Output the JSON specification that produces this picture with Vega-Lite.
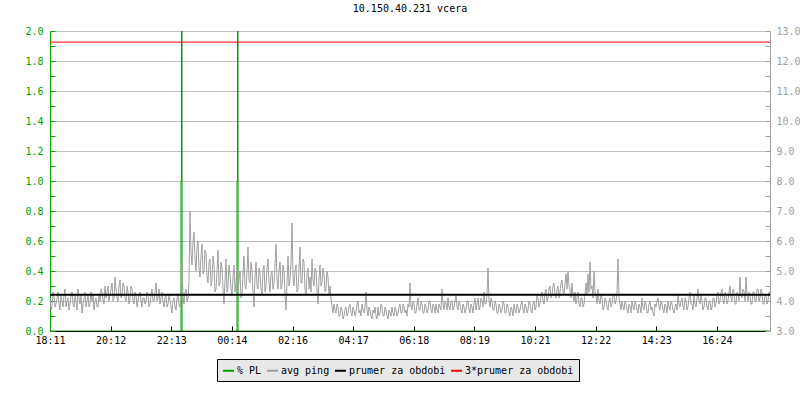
{
  "$schema": "https://vega.github.io/schema/vega-lite/v6.json",
  "width": 720,
  "height": 300,
  "autosize": {"type": "none"},
  "padding": {"left": 50, "top": 31, "right": 30, "bottom": 69},
  "background": "white",
  "title": {"text": "10.150.40.231 vcera", "font": "DejaVu Sans Mono", "fontSize": 10, "fontWeight": "normal", "color": "#000000", "anchor": "middle", "offset": 12},
  "config": {
    "view": {"stroke": null},
    "axis": {"labelFont": "DejaVu Sans Mono", "labelFontSize": 10, "title": null, "labelFlush": false, "labelOverlap": false},
    "legend": {"labelFont": "DejaVu Sans Mono", "labelFontSize": 10, "labelColor": "#000000"}
  },
  "datasets": {
    "pl": [
      {"t": 0, "v": 0}, {"t": 262, "v": 1}, {"t": 263, "v": 3}, {"t": 264, "v": 0},
      {"t": 374, "v": 1}, {"t": 375, "v": 3}, {"t": 376, "v": 0}, {"t": 1440, "v": 0}
    ],
    "ping": [
      {"t":0,"v":4.1},{"t":2,"v":3.7},{"t":4,"v":3.8},{"t":6,"v":4.3},{"t":8,"v":4.2},{"t":10,"v":3.8},{"t":12,"v":3.9},{"t":14,"v":4.1},{"t":16,"v":4.3},{"t":18,"v":3.9},{"t":20,"v":3.7},{"t":22,"v":4.2},{"t":24,"v":4.0},{"t":26,"v":3.8},{"t":28,"v":4.2},{"t":30,"v":4.4},{"t":32,"v":3.8},{"t":34,"v":4.0},{"t":36,"v":4.1},{"t":38,"v":3.7},
      {"t":40,"v":3.9},{"t":42,"v":4.2},{"t":44,"v":4.3},{"t":46,"v":3.9},{"t":48,"v":3.8},{"t":50,"v":4.2},{"t":52,"v":4.0},{"t":54,"v":3.7},{"t":56,"v":4.4},{"t":58,"v":4.1},{"t":60,"v":3.9},{"t":62,"v":4.2},{"t":64,"v":3.6},{"t":66,"v":3.9},{"t":68,"v":4.1},{"t":70,"v":4.3},{"t":72,"v":3.8},{"t":74,"v":4.0},{"t":76,"v":4.2},{"t":78,"v":3.8},
      {"t":80,"v":3.9},{"t":82,"v":4.3},{"t":84,"v":4.0},{"t":86,"v":4.2},{"t":88,"v":3.7},{"t":90,"v":4.0},{"t":92,"v":4.1},{"t":94,"v":3.8},{"t":96,"v":3.8},{"t":98,"v":4.2},{"t":100,"v":4.0},{"t":102,"v":4.4},{"t":104,"v":4.3},{"t":106,"v":4.0},{"t":108,"v":3.9},{"t":110,"v":4.5},{"t":112,"v":4.1},{"t":114,"v":4.3},{"t":116,"v":4.5},{"t":118,"v":4.0},
      {"t":120,"v":4.2},{"t":122,"v":4.4},{"t":124,"v":4.6},{"t":126,"v":4.0},{"t":128,"v":4.1},{"t":130,"v":4.8},{"t":132,"v":4.4},{"t":134,"v":4.1},{"t":136,"v":4.0},{"t":138,"v":4.5},{"t":140,"v":4.7},{"t":142,"v":4.1},{"t":144,"v":4.2},{"t":146,"v":4.6},{"t":148,"v":4.5},{"t":150,"v":4.1},{"t":152,"v":4.0},{"t":154,"v":4.5},{"t":156,"v":4.3},{"t":158,"v":3.9},
      {"t":160,"v":4.1},{"t":162,"v":4.5},{"t":164,"v":4.4},{"t":166,"v":4.0},{"t":168,"v":3.9},{"t":170,"v":4.3},{"t":172,"v":4.2},{"t":174,"v":3.8},{"t":176,"v":4.0},{"t":178,"v":4.2},{"t":180,"v":4.3},{"t":182,"v":4.0},{"t":184,"v":3.8},{"t":186,"v":4.1},{"t":188,"v":4.1},{"t":190,"v":3.9},{"t":192,"v":4.0},{"t":194,"v":4.3},{"t":196,"v":4.2},{"t":198,"v":3.8},
      {"t":200,"v":3.9},{"t":202,"v":4.2},{"t":204,"v":4.4},{"t":206,"v":4.0},{"t":208,"v":4.0},{"t":210,"v":4.3},{"t":212,"v":4.6},{"t":214,"v":4.0},{"t":216,"v":4.1},{"t":218,"v":4.4},{"t":220,"v":3.9},{"t":222,"v":4.1},{"t":224,"v":4.3},{"t":226,"v":4.0},{"t":228,"v":3.8},{"t":230,"v":4.1},{"t":232,"v":4.2},{"t":234,"v":3.8},{"t":236,"v":3.9},{"t":238,"v":4.2},
      {"t":240,"v":4.0},{"t":242,"v":3.8},{"t":244,"v":3.6},{"t":246,"v":4.0},{"t":248,"v":4.1},{"t":250,"v":3.8},{"t":252,"v":3.7},{"t":254,"v":4.1},{"t":256,"v":4.2},{"t":258,"v":3.9},{"t":260,"v":3.8},{"t":262,"v":4.1},{"t":264,"v":5.3},{"t":266,"v":4.2},{"t":268,"v":3.9},{"t":270,"v":4.3},{"t":272,"v":4.4},{"t":274,"v":4.0},{"t":276,"v":4.1},{"t":278,"v":4.6},
      {"t":280,"v":7.0},{"t":282,"v":5.6},{"t":284,"v":5.2},{"t":286,"v":6.0},{"t":288,"v":6.3},{"t":290,"v":5.4},{"t":292,"v":5.0},{"t":294,"v":5.8},{"t":296,"v":6.0},{"t":298,"v":5.1},{"t":300,"v":4.8},{"t":302,"v":5.5},{"t":304,"v":5.9},{"t":306,"v":4.9},{"t":308,"v":5.0},{"t":310,"v":5.7},{"t":312,"v":5.6},{"t":314,"v":4.8},{"t":316,"v":4.6},{"t":318,"v":5.3},
      {"t":320,"v":5.4},{"t":322,"v":4.5},{"t":324,"v":4.7},{"t":326,"v":5.5},{"t":328,"v":5.2},{"t":330,"v":4.3},{"t":332,"v":4.4},{"t":334,"v":5.0},{"t":336,"v":5.7},{"t":338,"v":4.5},{"t":340,"v":4.6},{"t":342,"v":5.3},{"t":344,"v":5.1},{"t":346,"v":4.4},{"t":348,"v":3.9},{"t":350,"v":4.7},{"t":352,"v":5.4},{"t":354,"v":4.3},{"t":356,"v":4.5},{"t":358,"v":5.2},
      {"t":360,"v":4.9},{"t":362,"v":4.4},{"t":364,"v":4.2},{"t":366,"v":4.8},{"t":368,"v":5.2},{"t":370,"v":4.3},{"t":372,"v":4.6},{"t":374,"v":5.1},{"t":376,"v":4.3},{"t":378,"v":4.7},{"t":380,"v":5.0},{"t":382,"v":4.1},{"t":384,"v":4.2},{"t":386,"v":4.9},{"t":388,"v":5.5},{"t":390,"v":4.5},{"t":392,"v":4.4},{"t":394,"v":5.0},{"t":396,"v":5.8},{"t":398,"v":4.7},
      {"t":400,"v":4.6},{"t":402,"v":5.3},{"t":404,"v":5.0},{"t":406,"v":4.3},{"t":408,"v":3.8},{"t":410,"v":4.8},{"t":412,"v":5.3},{"t":414,"v":4.5},{"t":416,"v":4.4},{"t":418,"v":5.1},{"t":420,"v":4.9},{"t":422,"v":4.4},{"t":424,"v":4.2},{"t":426,"v":5.0},{"t":428,"v":5.2},{"t":430,"v":4.3},{"t":432,"v":4.5},{"t":434,"v":5.1},{"t":436,"v":5.4},{"t":438,"v":4.6},
      {"t":440,"v":4.3},{"t":442,"v":4.9},{"t":444,"v":5.0},{"t":446,"v":4.4},{"t":448,"v":4.6},{"t":450,"v":5.2},{"t":452,"v":5.9},{"t":454,"v":4.7},{"t":456,"v":4.4},{"t":458,"v":5.0},{"t":460,"v":5.3},{"t":462,"v":4.4},{"t":464,"v":4.5},{"t":466,"v":5.2},{"t":468,"v":5.0},{"t":470,"v":4.2},{"t":472,"v":3.7},{"t":474,"v":4.6},{"t":476,"v":5.5},{"t":478,"v":4.5},
      {"t":480,"v":4.7},{"t":482,"v":5.3},{"t":484,"v":6.6},{"t":486,"v":4.8},{"t":488,"v":4.5},{"t":490,"v":5.0},{"t":492,"v":5.2},{"t":494,"v":4.3},{"t":496,"v":4.4},{"t":498,"v":5.1},{"t":500,"v":5.8},{"t":502,"v":4.6},{"t":504,"v":4.6},{"t":506,"v":5.4},{"t":508,"v":5.3},{"t":510,"v":4.4},{"t":512,"v":4.2},{"t":514,"v":4.9},{"t":516,"v":5.1},{"t":518,"v":4.4},
      {"t":520,"v":4.8},{"t":522,"v":4.3},{"t":524,"v":5.4},{"t":526,"v":4.7},{"t":528,"v":4.5},{"t":530,"v":5.1},{"t":532,"v":5.0},{"t":534,"v":4.4},{"t":536,"v":3.9},{"t":538,"v":4.7},{"t":540,"v":5.2},{"t":542,"v":4.5},{"t":544,"v":4.6},{"t":546,"v":5.1},{"t":548,"v":4.9},{"t":550,"v":4.3},{"t":552,"v":4.4},{"t":554,"v":5.0},{"t":556,"v":4.8},{"t":558,"v":4.2},
      {"t":560,"v":4.5},{"t":562,"v":4.1},{"t":564,"v":3.8},{"t":566,"v":3.6},{"t":568,"v":3.9},{"t":570,"v":3.7},{"t":572,"v":3.6},{"t":574,"v":3.9},{"t":576,"v":3.8},{"t":578,"v":3.5},{"t":580,"v":3.5},{"t":582,"v":3.8},{"t":584,"v":3.7},{"t":586,"v":3.4},{"t":588,"v":3.5},{"t":590,"v":3.7},{"t":592,"v":3.8},{"t":594,"v":3.5},{"t":596,"v":3.6},{"t":598,"v":3.8},
      {"t":600,"v":3.9},{"t":602,"v":3.6},{"t":604,"v":3.5},{"t":606,"v":3.8},{"t":608,"v":3.7},{"t":610,"v":3.5},{"t":612,"v":3.6},{"t":614,"v":3.9},{"t":616,"v":4.0},{"t":618,"v":3.6},{"t":620,"v":3.7},{"t":622,"v":3.5},{"t":624,"v":3.9},{"t":626,"v":3.7},{"t":628,"v":3.6},{"t":630,"v":3.8},{"t":632,"v":4.3},{"t":634,"v":3.7},{"t":636,"v":3.5},{"t":638,"v":3.8},
      {"t":640,"v":3.7},{"t":642,"v":3.5},{"t":644,"v":3.4},{"t":646,"v":3.7},{"t":648,"v":3.6},{"t":650,"v":3.8},{"t":652,"v":3.5},{"t":654,"v":3.4},{"t":656,"v":3.8},{"t":658,"v":3.5},{"t":660,"v":3.6},{"t":662,"v":3.9},{"t":664,"v":3.8},{"t":666,"v":3.5},{"t":668,"v":3.5},{"t":670,"v":3.8},{"t":672,"v":3.7},{"t":674,"v":3.5},{"t":676,"v":3.4},{"t":678,"v":3.7},
      {"t":680,"v":3.6},{"t":682,"v":3.5},{"t":684,"v":3.8},{"t":686,"v":3.6},{"t":688,"v":3.5},{"t":690,"v":3.8},{"t":692,"v":3.7},{"t":694,"v":3.5},{"t":696,"v":3.6},{"t":698,"v":3.8},{"t":700,"v":3.9},{"t":702,"v":3.6},{"t":704,"v":3.6},{"t":706,"v":3.9},{"t":708,"v":3.8},{"t":710,"v":3.6},{"t":712,"v":3.7},{"t":714,"v":3.5},{"t":716,"v":3.9},{"t":718,"v":3.8},
      {"t":720,"v":4.6},{"t":722,"v":3.8},{"t":724,"v":3.7},{"t":726,"v":4.0},{"t":728,"v":3.9},{"t":730,"v":3.6},{"t":732,"v":3.6},{"t":734,"v":3.9},{"t":736,"v":4.1},{"t":738,"v":3.7},{"t":740,"v":3.7},{"t":742,"v":4.0},{"t":744,"v":3.9},{"t":746,"v":3.6},{"t":748,"v":3.6},{"t":750,"v":3.9},{"t":752,"v":3.8},{"t":754,"v":3.6},{"t":756,"v":3.7},{"t":758,"v":4.0},
      {"t":760,"v":4.0},{"t":762,"v":3.7},{"t":764,"v":3.6},{"t":766,"v":3.9},{"t":768,"v":3.8},{"t":770,"v":3.6},{"t":772,"v":3.9},{"t":774,"v":3.7},{"t":776,"v":3.6},{"t":778,"v":3.9},{"t":780,"v":3.8},{"t":782,"v":3.7},{"t":784,"v":4.4},{"t":786,"v":3.9},{"t":788,"v":3.7},{"t":790,"v":4.0},{"t":792,"v":3.9},{"t":794,"v":3.7},{"t":796,"v":4.1},{"t":798,"v":3.8},
      {"t":800,"v":3.7},{"t":802,"v":4.0},{"t":804,"v":4.0},{"t":806,"v":3.7},{"t":808,"v":3.8},{"t":810,"v":4.0},{"t":812,"v":4.2},{"t":814,"v":3.8},{"t":816,"v":3.7},{"t":818,"v":4.0},{"t":820,"v":3.9},{"t":822,"v":3.7},{"t":824,"v":3.6},{"t":826,"v":3.9},{"t":828,"v":3.8},{"t":830,"v":3.6},{"t":832,"v":3.7},{"t":834,"v":4.0},{"t":836,"v":4.0},{"t":838,"v":3.7},
      {"t":840,"v":3.6},{"t":842,"v":3.9},{"t":844,"v":3.8},{"t":846,"v":3.6},{"t":848,"v":3.9},{"t":850,"v":4.1},{"t":852,"v":3.7},{"t":854,"v":3.9},{"t":856,"v":4.1},{"t":858,"v":3.7},{"t":860,"v":3.8},{"t":862,"v":4.1},{"t":864,"v":4.0},{"t":866,"v":3.8},{"t":868,"v":4.3},{"t":870,"v":3.9},{"t":872,"v":3.9},{"t":874,"v":4.2},{"t":876,"v":5.1},{"t":878,"v":4.0},
      {"t":880,"v":3.8},{"t":882,"v":4.1},{"t":884,"v":4.0},{"t":886,"v":3.7},{"t":888,"v":3.7},{"t":890,"v":4.0},{"t":892,"v":3.9},{"t":894,"v":3.6},{"t":896,"v":3.6},{"t":898,"v":3.9},{"t":900,"v":3.8},{"t":902,"v":3.6},{"t":904,"v":3.7},{"t":906,"v":4.0},{"t":908,"v":3.9},{"t":910,"v":3.6},{"t":912,"v":3.6},{"t":914,"v":3.9},{"t":916,"v":3.8},{"t":918,"v":3.6},
      {"t":920,"v":3.5},{"t":922,"v":3.8},{"t":924,"v":3.7},{"t":926,"v":3.5},{"t":928,"v":3.9},{"t":930,"v":3.7},{"t":932,"v":3.6},{"t":934,"v":3.9},{"t":936,"v":3.8},{"t":938,"v":3.6},{"t":940,"v":3.7},{"t":942,"v":3.9},{"t":944,"v":4.0},{"t":946,"v":3.7},{"t":948,"v":3.6},{"t":950,"v":3.9},{"t":952,"v":3.8},{"t":954,"v":3.6},{"t":956,"v":3.7},{"t":958,"v":4.0},
      {"t":960,"v":3.9},{"t":962,"v":3.7},{"t":964,"v":3.6},{"t":966,"v":3.9},{"t":968,"v":4.0},{"t":970,"v":3.7},{"t":972,"v":3.8},{"t":974,"v":4.2},{"t":976,"v":4.1},{"t":978,"v":3.8},{"t":980,"v":3.9},{"t":982,"v":4.2},{"t":984,"v":4.3},{"t":986,"v":4.0},{"t":988,"v":3.9},{"t":990,"v":4.3},{"t":992,"v":4.4},{"t":994,"v":4.0},{"t":996,"v":4.1},{"t":998,"v":4.4},
      {"t":1000,"v":4.5},{"t":1002,"v":4.1},{"t":1004,"v":4.2},{"t":1006,"v":4.5},{"t":1008,"v":4.6},{"t":1010,"v":4.2},{"t":1012,"v":4.1},{"t":1014,"v":4.4},{"t":1016,"v":4.5},{"t":1018,"v":4.1},{"t":1020,"v":4.3},{"t":1022,"v":4.6},{"t":1024,"v":4.7},{"t":1026,"v":4.3},{"t":1028,"v":4.2},{"t":1030,"v":4.6},{"t":1032,"v":4.9},{"t":1034,"v":4.4},{"t":1036,"v":5.0},{"t":1038,"v":4.5},
      {"t":1040,"v":4.4},{"t":1042,"v":4.1},{"t":1044,"v":4.6},{"t":1046,"v":4.2},{"t":1048,"v":4.0},{"t":1050,"v":4.3},{"t":1052,"v":3.9},{"t":1054,"v":4.1},{"t":1056,"v":4.3},{"t":1058,"v":3.9},{"t":1060,"v":3.8},{"t":1062,"v":4.1},{"t":1064,"v":4.1},{"t":1066,"v":3.8},{"t":1068,"v":3.9},{"t":1070,"v":4.2},{"t":1072,"v":4.6},{"t":1074,"v":4.2},{"t":1076,"v":4.9},{"t":1078,"v":4.3},
      {"t":1080,"v":5.3},{"t":1082,"v":4.4},{"t":1084,"v":4.5},{"t":1086,"v":4.1},{"t":1088,"v":5.0},{"t":1090,"v":4.3},{"t":1092,"v":4.2},{"t":1094,"v":3.9},{"t":1096,"v":4.4},{"t":1098,"v":4.0},{"t":1100,"v":3.9},{"t":1102,"v":4.2},{"t":1104,"v":4.1},{"t":1106,"v":3.7},{"t":1108,"v":3.8},{"t":1110,"v":4.1},{"t":1112,"v":4.0},{"t":1114,"v":3.8},{"t":1116,"v":3.7},{"t":1118,"v":4.0},
      {"t":1120,"v":4.1},{"t":1122,"v":3.8},{"t":1124,"v":3.9},{"t":1126,"v":4.2},{"t":1128,"v":4.2},{"t":1130,"v":3.9},{"t":1132,"v":4.0},{"t":1134,"v":4.3},{"t":1136,"v":5.4},{"t":1138,"v":4.1},{"t":1140,"v":3.9},{"t":1142,"v":3.7},{"t":1144,"v":4.0},{"t":1146,"v":3.8},{"t":1148,"v":3.7},{"t":1150,"v":4.0},{"t":1152,"v":3.9},{"t":1154,"v":3.7},{"t":1156,"v":3.6},{"t":1158,"v":3.9},
      {"t":1160,"v":3.8},{"t":1162,"v":3.6},{"t":1164,"v":4.0},{"t":1166,"v":3.8},{"t":1168,"v":3.7},{"t":1170,"v":4.0},{"t":1172,"v":3.9},{"t":1174,"v":3.7},{"t":1176,"v":3.6},{"t":1178,"v":3.9},{"t":1180,"v":3.8},{"t":1182,"v":3.6},{"t":1184,"v":4.1},{"t":1186,"v":3.8},{"t":1188,"v":3.7},{"t":1190,"v":4.0},{"t":1192,"v":3.9},{"t":1194,"v":3.6},{"t":1196,"v":3.6},{"t":1198,"v":3.9},
      {"t":1200,"v":4.0},{"t":1202,"v":3.7},{"t":1204,"v":3.8},{"t":1206,"v":3.6},{"t":1208,"v":3.5},{"t":1210,"v":3.9},{"t":1212,"v":3.8},{"t":1214,"v":4.0},{"t":1216,"v":4.1},{"t":1218,"v":3.8},{"t":1220,"v":3.7},{"t":1222,"v":4.0},{"t":1224,"v":3.9},{"t":1226,"v":3.7},{"t":1228,"v":3.6},{"t":1230,"v":3.9},{"t":1232,"v":3.8},{"t":1234,"v":3.6},{"t":1236,"v":4.0},{"t":1238,"v":3.8},
      {"t":1240,"v":3.7},{"t":1242,"v":4.0},{"t":1244,"v":3.9},{"t":1246,"v":3.7},{"t":1248,"v":3.6},{"t":1250,"v":3.8},{"t":1252,"v":3.9},{"t":1254,"v":3.7},{"t":1256,"v":4.2},{"t":1258,"v":3.9},{"t":1260,"v":3.8},{"t":1262,"v":4.0},{"t":1264,"v":4.1},{"t":1266,"v":3.8},{"t":1268,"v":3.7},{"t":1270,"v":4.1},{"t":1272,"v":4.0},{"t":1274,"v":3.7},{"t":1276,"v":3.8},{"t":1278,"v":4.1},
      {"t":1280,"v":4.3},{"t":1282,"v":3.9},{"t":1284,"v":3.9},{"t":1286,"v":3.7},{"t":1288,"v":4.2},{"t":1290,"v":3.9},{"t":1292,"v":3.8},{"t":1294,"v":4.1},{"t":1296,"v":4.4},{"t":1298,"v":4.0},{"t":1300,"v":3.9},{"t":1302,"v":4.2},{"t":1304,"v":4.0},{"t":1306,"v":3.7},{"t":1308,"v":3.8},{"t":1310,"v":4.1},{"t":1312,"v":4.1},{"t":1314,"v":3.8},{"t":1316,"v":3.7},{"t":1318,"v":4.0},
      {"t":1320,"v":4.0},{"t":1322,"v":3.7},{"t":1324,"v":3.8},{"t":1326,"v":4.1},{"t":1328,"v":4.1},{"t":1330,"v":3.8},{"t":1332,"v":3.9},{"t":1334,"v":4.2},{"t":1336,"v":4.3},{"t":1338,"v":3.9},{"t":1340,"v":4.0},{"t":1342,"v":4.3},{"t":1344,"v":4.4},{"t":1346,"v":4.0},{"t":1348,"v":3.9},{"t":1350,"v":4.3},{"t":1352,"v":4.2},{"t":1354,"v":3.9},{"t":1356,"v":4.0},{"t":1358,"v":4.3},
      {"t":1360,"v":4.5},{"t":1362,"v":4.1},{"t":1364,"v":4.0},{"t":1366,"v":4.4},{"t":1368,"v":4.3},{"t":1370,"v":3.9},{"t":1372,"v":3.9},{"t":1374,"v":4.3},{"t":1376,"v":4.2},{"t":1378,"v":4.0},{"t":1380,"v":4.8},{"t":1382,"v":4.2},{"t":1384,"v":4.1},{"t":1386,"v":4.4},{"t":1388,"v":4.3},{"t":1390,"v":4.0},{"t":1392,"v":4.8},{"t":1394,"v":4.2},{"t":1396,"v":4.0},{"t":1398,"v":4.3},
      {"t":1400,"v":4.2},{"t":1402,"v":3.9},{"t":1404,"v":3.9},{"t":1406,"v":4.3},{"t":1408,"v":4.3},{"t":1410,"v":4.0},{"t":1412,"v":4.0},{"t":1414,"v":4.4},{"t":1416,"v":4.4},{"t":1418,"v":4.0},{"t":1420,"v":4.1},{"t":1422,"v":4.4},{"t":1424,"v":4.3},{"t":1426,"v":3.9},{"t":1428,"v":3.9},{"t":1430,"v":4.2},{"t":1432,"v":4.2},{"t":1434,"v":3.9},{"t":1436,"v":4.0},{"t":1438,"v":4.3},
      {"t":1440,"v":4.2}
    ]
  },
  "layer": [
    {
      "data": {"name": "pl"},
      "mark": {"type": "line", "interpolate": "step-after", "strokeWidth": 1, "clip": true},
      "encoding": {
        "x": {
          "field": "t", "type": "quantitative",
          "scale": {"domain": [0, 1440], "nice": false, "zero": false},
          "axis": {
            "values": [0, 121.25, 242.5, 363.75, 485, 606.25, 727.5, 848.75, 970, 1091.25, 1212.5, 1333.75],
            "labelExpr": "timeFormat(datetime(2024, 0, 1, 18, 11 + datum.value), '%H:%M')",
            "domainColor": "#000000", "domainWidth": 1,
            "tickColor": "#000000", "tickSize": -5, "labelPadding": 9,
            "labelColor": "#000000", "grid": false
          }
        },
        "y": {
          "field": "v", "type": "quantitative",
          "scale": {"domain": [0, 2], "nice": false, "zero": false},
          "axis": {
            "orient": "left",
            "values": [0, 0.1, 0.2, 0.3, 0.4, 0.5, 0.6, 0.7, 0.8, 0.9, 1.0, 1.1, 1.2, 1.3, 1.4, 1.5, 1.6, 1.7, 1.8, 1.9, 2.0],
            "format": ".1f",
            "labelExpr": "round(datum.value * 10) % 2 == 0 ? datum.label : ''",
            "labelColor": "#00a000",
            "domainColor": "#00a000",
            "tickColor": "#00a000",
            "tickSize": -5,
            "labelPadding": 12,
            "grid": true,
            "gridColor": "#c0c0c0",
            "gridOpacity": {"condition": {"test": "round(datum.value * 10) % 2 == 0", "value": 1}, "value": 0}
          }
        },
        "color": {
          "datum": "% PL",
          "title": null,
          "scale": {"domain": ["% PL", "avg ping", "prumer za obdobi", "3*prumer za obdobi"], "range": ["#00a000", "#a0a0a0", "#000000", "#ff0000"]},
          "legend": {
            "title": null, "orient": "none", "legendX": 167, "legendY": 328, "direction": "horizontal",
            "fillColor": "#e8e8e8", "strokeColor": "#000000", "padding": 5,
            "symbolType": "stroke", "symbolStrokeWidth": 2, "symbolSize": 121,
            "labelOffset": 2, "columnPadding": 1
          }
        }
      }
    },
    {
      "data": {"name": "ping"},
      "mark": {"type": "line", "strokeWidth": 1},
      "encoding": {
        "x": {"field": "t", "type": "quantitative"},
        "y": {
          "field": "v", "type": "quantitative",
          "scale": {"domain": [3, 13], "nice": false, "zero": false},
          "axis": {
            "orient": "right",
            "values": [3, 3.5, 4, 4.5, 5, 5.5, 6, 6.5, 7, 7.5, 8, 8.5, 9, 9.5, 10, 10.5, 11, 11.5, 12, 12.5, 13],
            "format": ".1f",
            "labelExpr": "datum.value % 1 == 0 ? datum.label : ''",
            "labelColor": "#a0a0a0",
            "domainColor": "#a0a0a0",
            "tickColor": "#a0a0a0",
            "tickSize": -5,
            "labelPadding": 11,
            "grid": false
          }
        },
        "color": {"datum": "avg ping", "title": null}
      }
    },
    {
      "data": {"values": [{"s": "prumer za obdobi", "v": 4.21}]},
      "mark": {"type": "rule", "strokeWidth": 2},
      "encoding": {
        "y": {"field": "v", "type": "quantitative", "scale": {"domain": [3, 13], "nice": false, "zero": false}, "axis": null},
        "color": {"field": "s", "type": "nominal", "title": null}
      }
    },
    {
      "data": {"values": [{"s": "3*prumer za obdobi", "v": 12.63}]},
      "mark": {"type": "rule", "strokeWidth": 1},
      "encoding": {
        "y": {"field": "v", "type": "quantitative", "scale": {"domain": [3, 13], "nice": false, "zero": false}, "axis": null},
        "color": {"field": "s", "type": "nominal", "title": null}
      }
    }
  ],
  "resolve": {"scale": {"y": "independent"}, "axis": {"y": "independent"}}
}
